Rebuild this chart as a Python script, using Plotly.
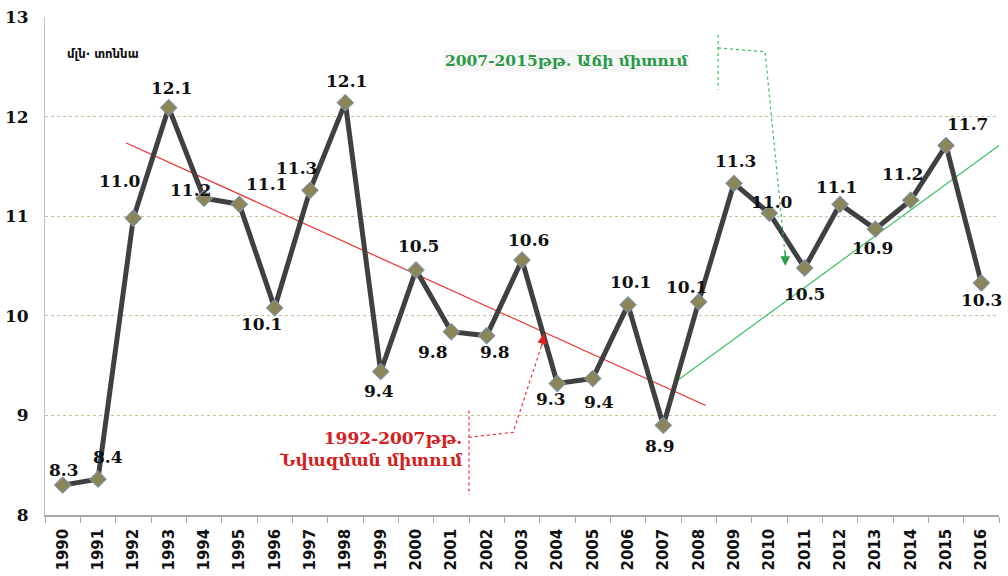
import plotly.graph_objects as go

years = list(range(1990, 2017))
values = [8.30, 8.36, 10.98, 12.09, 11.18, 11.12, 10.08, 11.26, 12.14, 9.44,
          10.46, 9.84, 9.80, 10.56, 9.32, 9.37, 10.11, 8.90, 10.14, 11.33,
          11.03, 10.48, 11.12, 10.87, 11.16, 11.71, 10.33]
# label offsets (px) relative to points
label_dx = [1, 10, -13, 3, -14, 27, -13, -14, 1, -2, 2, -18, 8, 6, -6, 6, 2, -3, -12, 1, 3, 0, -4, -3, -8, 21, 0]
label_dy = [15, 22, 37, 20, 8, 20, -16, 22, 22, -19, 24, -20, -16, 20, -15, -23, 23, -21, 15, 22, 11, -26, 17, -19, 26, 21, -17]

red_trend_x = [1991.8, 2008.2]
red_trend_y = [11.735, 9.10]
green_trend_x = [2007.32, 2016.5]
green_trend_y = [9.33, 11.71]

y_ticks = [8, 9, 10, 11, 12, 13]

fig = go.Figure()

fig.add_trace(go.Scatter(x=red_trend_x, y=red_trend_y, mode="lines",
                         line=dict(color="#ee3030", width=1.2), hoverinfo="skip"))
fig.add_trace(go.Scatter(x=green_trend_x, y=green_trend_y, mode="lines",
                         line=dict(color="#3cbf60", width=1.2), hoverinfo="skip",
                         cliponaxis=False))
fig.add_trace(go.Scatter(x=years, y=values, mode="lines+markers",
                         line=dict(color="#404040", width=5),
                         marker=dict(symbol="diamond", size=13, color="#8b8659",
                                     line=dict(color="#7f9fd0", width=1))))

label_font = dict(family="DejaVu Serif", size=17, color="#111111", weight="bold")
for x, v, dx, dy in zip(years, values, label_dx, label_dy):
    fig.add_annotation(x=x, y=v, text=f"{v:.1f}", showarrow=False,
                       xshift=dx, yshift=dy, font=label_font)

# unit label
fig.add_annotation(xref="paper", yref="paper", x=0.021, y=0.945, xanchor="left",
                   text="մլն· տոննա", showarrow=False,
                   font=dict(family="DejaVu Sans Condensed", size=13, color="#111111", weight="bold"))

# green annotation
fig.add_annotation(x=2004.25, y=12.56, text="2007-2015թթ. Աճի միտում", showarrow=False,
                   bgcolor="rgba(240,240,240,0.6)",
                   font=dict(family="DejaVu Serif", size=15.5, color="#2a9a48", weight="bold"))
fig.add_shape(type="line", x0=2008.55, x1=2008.55, y0=12.82, y1=12.27,
              line=dict(color="#3cbf60", width=1.2, dash="dot"))
fig.add_shape(type="path", path="M 2008.55,12.69 L 2009.88,12.65 L 2010.45,10.6",
              line=dict(color="#3cbf60", width=1.2, dash="dot"))
fig.add_annotation(x=2010.45, y=10.5, ax=2010.45, ay=10.66, axref="x", ayref="y",
                   text="", showarrow=True, arrowhead=2, arrowsize=1.3, arrowwidth=1.5,
                   arrowcolor="#2aa04a")

# red annotation
fig.add_annotation(x=2001.4, y=8.66, xanchor="right",
                   text="1992-2007թթ.<br>Նվազման միտում", showarrow=False,
                   align="right",
                   font=dict(family="DejaVu Serif", size=17, color="#d42020", weight="bold"))
fig.add_shape(type="line", x0=2001.5, x1=2001.5, y0=9.05, y1=8.2,
              line=dict(color="#ee3030", width=1.2, dash="dot"))
fig.add_shape(type="path", path="M 2001.5,8.78 L 2002.75,8.83 L 2003.57,9.72",
              line=dict(color="#ee3030", width=1.2, dash="dot"))
fig.add_annotation(x=2003.62, y=9.82, ax=2003.55, ay=9.68, axref="x", ayref="y",
                   text="", showarrow=True, arrowhead=2, arrowsize=1.3, arrowwidth=1.5,
                   arrowcolor="#e02020")

fig.update_layout(
    width=1008, height=576,
    margin=dict(l=45, r=9, t=17, b=61, autoexpand=False),
    paper_bgcolor="white", plot_bgcolor="white",
    showlegend=False,
)
fig.update_xaxes(
    range=[1989.5, 2016.5], tickmode="array", tickvals=years,
    ticktext=[str(y) for y in years], tickangle=-90, automargin=False,
    tickfont=dict(family="DejaVu Sans", size=15, color="#111111", weight="bold"),
    showgrid=False, zeroline=False, showline=True, linecolor="#a8a8a8", linewidth=1.5,
    ticks="", ticklabelstandoff=6,
    minor=dict(tickvals=[y - 0.5 for y in years] + [2016.5], ticks="outside",
               ticklen=6, tickcolor="#a8a8a8", showgrid=False),
)
fig.update_yaxes(
    range=[8, 13], tickmode="array", tickvals=y_ticks, ticktext=[str(t) for t in y_ticks],
    automargin=False,
    tickfont=dict(family="DejaVu Serif", size=17, color="#111111", weight="bold"),
    showgrid=True, gridcolor="#c9c09c", griddash="dot", gridwidth=1.2,
    zeroline=False, showline=True, linecolor="#c0c0c0", linewidth=1,
    ticks="", ticklabelstandoff=12,
)

fig.write_html("out.html", config={"displayModeBar": False},
               post_script="document.body.style.margin='0';document.body.style.overflow='hidden';")
